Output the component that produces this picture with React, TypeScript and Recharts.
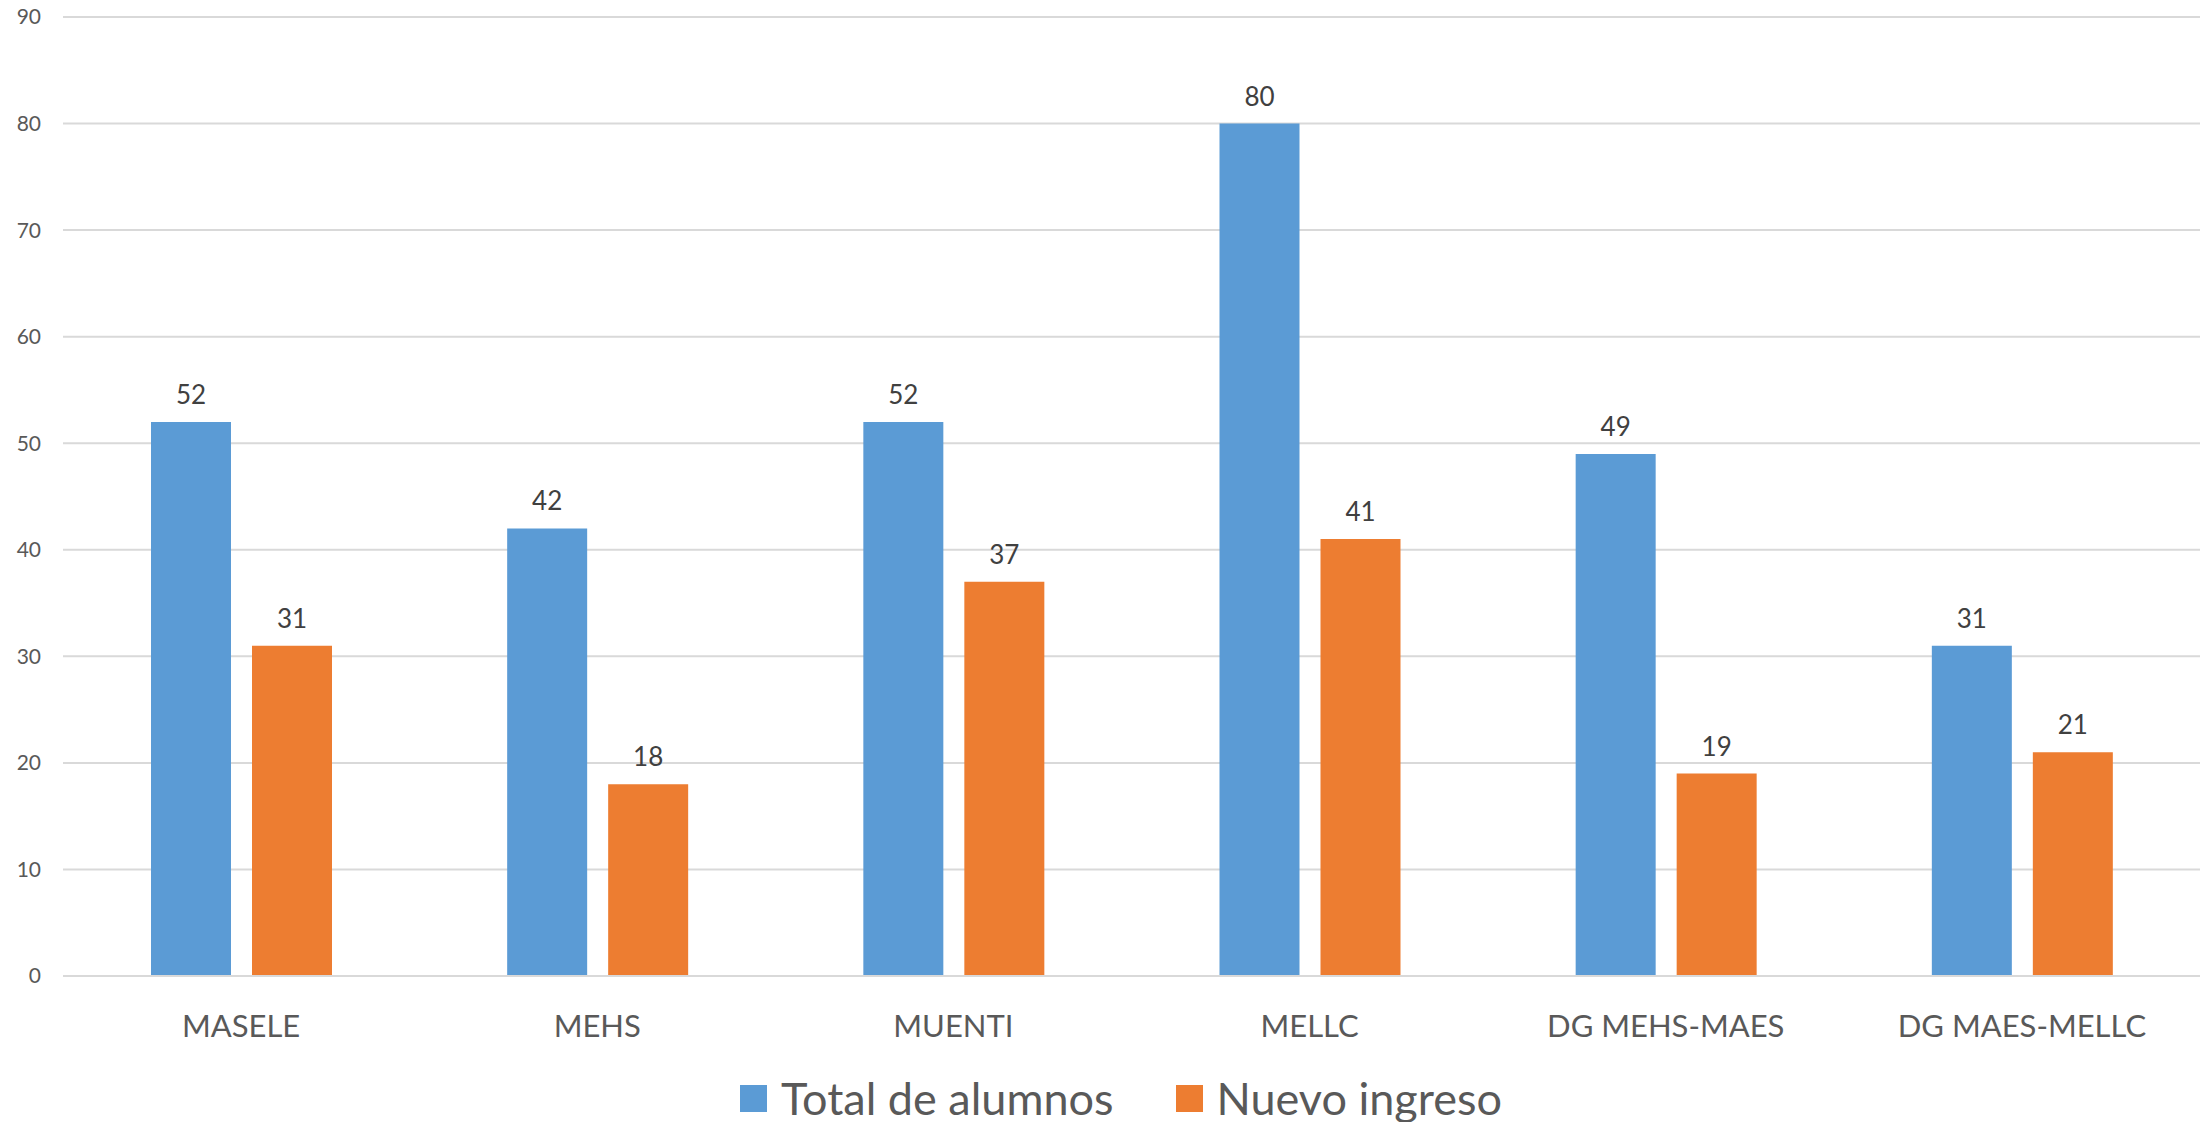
import React from 'react';
import {
  BarChart,
  Bar,
  XAxis,
  YAxis,
  CartesianGrid,
  Legend,
  LabelList
} from 'recharts';

const programas = ['MASELE', 'MEHS', 'MUENTI', 'MELLC', 'DG MEHS-MAES', 'DG MAES-MELLC'];
const totalAlumnos = [52, 42, 52, 80, 49, 31];
const nuevoIngreso = [31, 18, 37, 41, 19, 21];
const yTicks = [0, 10, 20, 30, 40, 50, 60, 70, 80, 90];

const BLUE = '#5B9BD5';
const ORANGE = '#ED7D31';
const FONT = 'Lato, "Open Sans", sans-serif';

const series = [
  { key: 'total', name: 'Total de alumnos', color: BLUE },
  { key: 'nuevo', name: 'Nuevo ingreso', color: ORANGE },
];

const data = programas.map((name, i) => ({
  name,
  total: totalAlumnos[i],
  nuevo: nuevoIngreso[i],
}));

// keep the legend in series order (recharts sorts it otherwise)
const renderLegend = () => (
  <div
    style={{
      display: 'flex',
      justifyContent: 'center',
      alignItems: 'center',
      fontFamily: FONT,
      paddingTop: 26,
      paddingLeft: 42,
    }}
  >
    {series.map((s, i) => (
      <div key={s.key} style={{ display: 'flex', alignItems: 'center', marginLeft: i === 0 ? 0 : 62 }}>
        <span style={{ width: 27, height: 27, background: s.color, display: 'inline-block', marginRight: 14 }} />
        <span style={{ fontSize: 45, color: '#595959', lineHeight: '52px' }}>{s.name}</span>
      </div>
    ))}
  </div>
);

const App: React.FC = () => {
  return (
    <div style={{ position: 'absolute', left: 0, top: 0, background: '#fff' }}>
      <BarChart
        width={2208}
        height={1122}
        data={data}
        margin={{ top: 17, right: 8, left: 0, bottom: 0 }}
        barSize={80}
        barGap={21}
      >
        <CartesianGrid vertical={false} stroke="#D9D9D9" strokeWidth={2} />
        <XAxis
          dataKey="name"
          height={70}
          tickLine={false}
          axisLine={{ stroke: '#D9D9D9', strokeWidth: 2 }}
          tickMargin={33}
          tick={{ fill: '#595959', fontSize: 31, fontFamily: FONT }}
          interval={0}
        />
        <YAxis
          width={63}
          domain={[0, 90]}
          ticks={yTicks}
          tickLine={false}
          axisLine={false}
          tickMargin={16}
          tick={{ fill: '#595959', fontSize: 21, fontFamily: FONT }}
        />
        <Legend verticalAlign="bottom" height={76} content={renderLegend} />
        {series.map((s) => (
          <Bar key={s.key} dataKey={s.key} name={s.name} fill={s.color} isAnimationActive={false}>
            <LabelList
              dataKey={s.key}
              position="top"
              offset={18}
              fill="#404040"
              fontSize={26}
              fontFamily={FONT}
            />
          </Bar>
        ))}
      </BarChart>
    </div>
  );
};

export default App;
